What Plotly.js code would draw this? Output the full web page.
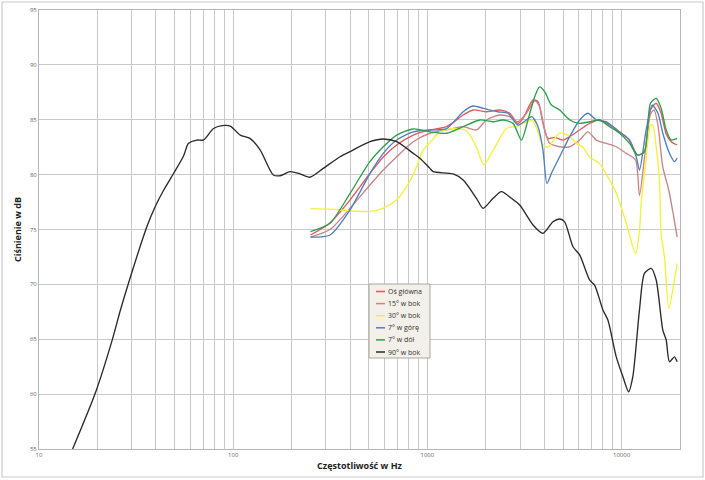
<!DOCTYPE html>
<html><head><meta charset="utf-8">
<script src="https://cdn.plot.ly/plotly-3.0.1.min.js"></script>
<style>html,body{margin:0;padding:0;background:#fff}#chart{width:705px;height:480px}</style>
</head><body><div id="chart"></div>
<script>
// ---- Data (frequency in Hz, level in dB) ----
const seriesNames = ["Oś główna", "15° w bok", "30° w bok", "7° w górę", "7° w dół", "90° w bok"];
const seriesColors = ["#e05a5e", "#c98585", "#f2f23c", "#4f7fbf", "#2f9e4a", "#2a2a2a"];

const fMain = [250,315,400,506,593,695,846,1031,1256,1529,1720,2016,2360,2655,2930,3110,3500,3714,3939,4180,4530,4990,5408,6085,6848,7706,9017,9770,10990,12100,13120,14090,15080,15990,16980,18020,19330];
const dbMain = [74.5,75.6,77.7,80.1,81.6,82.7,83.6,84.07,84.37,85.43,85.89,85.73,85.89,85.59,84.67,85.13,86.8,86.65,84.67,83.3,83.4,83.15,83.46,84.07,84.67,84.98,84.37,83.9,83.15,81.78,82.09,85.89,86.5,85.59,83.7,83.0,82.7];

const f15 = [250,315,400,506,593,695,846,1031,1256,1529,1790,2016,2360,2655,2930,3236,3571,3784,4018,4266,4800,5408,6085,6712,7413,8337,9393,10570,11800,12370,13120,14090,14700,15400,16310,17500,18500,19330];
const db15 = [74.3,75.0,76.93,79.05,80.42,81.63,83.0,83.77,84.07,84.37,84.07,84.98,85.43,85.28,84.82,85.59,86.73,86.19,84.07,82.85,82.54,82.54,83.15,83.9,83.15,82.85,82.54,81.94,81.33,78.1,81.5,85.5,85.9,84.5,80.7,78.6,76.3,74.3];

const f30 = [250,315,400,506,593,695,782,846,951,1031,1159,1358,1590,1790,1951,2180,2552,2875,3236,3500,3939,4180,4800,5408,5850,6330,6848,7706,8680,9393,10570,11800,12370,12620,13300,14090,14500,15080,15670,15990,16630,17510,18360,19330];
const db30 = [76.9,76.85,76.7,76.65,76.95,77.7,78.9,80.0,82.2,82.9,83.9,84.2,84.0,82.5,80.9,82.2,84.2,84.4,84.8,84.9,82.7,82.5,83.8,83.5,82.85,82.5,81.6,81.0,79.5,78.3,75.6,72.8,74.9,77.4,81.0,84.5,84.5,82.5,79.5,74.6,72.5,67.8,69.5,71.9];

const fUp = [250,315,400,506,593,695,846,1031,1256,1529,1720,1937,2300,2600,2930,3236,3450,3714,3939,4130,4355,4800,5408,6085,6712,7413,8337,9393,10800,11900,12370,13390,14380,15400,16310,17650,18730,19330];
const dbUp = [74.3,74.5,76.8,80.1,81.94,83.15,83.9,84.07,84.2,85.73,86.25,86.04,85.73,85.59,84.52,84.98,85.28,84.37,82.24,79.2,80.12,81.63,83.46,84.98,85.59,84.98,84.82,84.07,83.3,81.63,80.42,84.07,86.34,85.59,83.77,81.94,81.18,81.49];

const fDown = [250,315,400,506,593,695,846,1031,1256,1529,1862,2178,2452,2762,3049,3297,3571,3784,4018,4355,4800,5408,6085,6848,7706,8680,9770,10990,12100,13120,14090,15080,15990,16980,18020,19330];
const dbDown = [74.8,75.56,78.3,81.18,82.54,83.6,84.16,83.9,83.77,84.37,84.98,84.82,84.98,84.67,83.15,84.98,87.1,88.0,87.56,86.34,85.89,84.98,84.67,84.82,84.98,84.37,83.77,82.85,81.78,82.09,86.5,86.95,86.04,84.07,83.15,83.3];

const f90 = [14.9,19.5,23.8,26.2,29,36,39.7,43.9,49.3,55.5,58.9,65,70.3,79.2,87.5,96.6,108.7,122,137.6,161,174.4,196.5,221,248.7,291,355,400,506,593,695,846,915,1031,1072,1359,1529,1790,1937,2180,2406,2709,2991,3500,3939,4434,4800,5093,5623,6085,6848,7265,8017,8505,9393,10160,10870,11430,12370,13120,14210,15080,16310,16980,17650,18730,19330];
const db90 = [55,60.1,64.9,67.6,70.2,75.3,77.1,78.6,80.1,81.7,82.85,83.15,83.15,84.2,84.46,84.43,83.6,83.3,82.25,79.97,79.9,80.27,80.06,79.76,80.57,81.63,82.1,83.0,83.25,83.0,81.94,81.49,80.57,80.27,80.06,79.5,77.84,76.93,77.84,78.45,77.84,77.23,75.41,74.65,75.7,75.96,75.7,73.43,72.68,70.4,69.94,67.67,66.75,63.4,61.6,60.22,61.6,67.67,71.0,71.46,70.4,65.84,64.93,62.95,63.4,62.95];

const xs = [fMain, f15, f30, fUp, fDown, f90];
const ys = [dbMain, db15, db30, dbUp, dbDown, db90];

const decadeTicks = [10, 100, 1000, 10000];
const yTicks = [55, 60, 65, 70, 75, 80, 85, 90, 95];

// ---- Build ----
const traces = xs.map((x, i) => ({
  type: "scatter", mode: "lines", x: x, y: ys[i], name: seriesNames[i],
  line: {color: seriesColors[i], width: 1.35, shape: "spline", smoothing: 0.7},
  showlegend: false
}));

// gridline values: 10..90, 100..900, ..., 10000..20000
const gridVals = [];
for (let d = 10; d <= 10000; d *= 10) for (let k = 1; k <= 9; k++) if (d * k <= 20000) gridVals.push(d * k);
gridVals.push(20000);
const gridText = gridVals.map(v => decadeTicks.includes(v) ? String(v) : "");

// plot area pixels
const L = 39, R = 680, T = 10, B = 449;
const px = x => (x - L) / (R - L);
const py = y => (B - y) / (B - T);

const shapes = [
  {type: "rect", xref: "paper", yref: "paper", x0: px(2), x1: px(703), y0: py(477), y1: py(2),
   line: {color: "#cccccc", width: 1.2}, fillcolor: "rgba(0,0,0,0)", layer: "below"},
  {type: "rect", xref: "paper", yref: "paper", x0: px(369), x1: px(430), y0: py(358), y1: py(284),
   line: {color: "#a8a8a0", width: 1}, fillcolor: "#f2f0e8"}
];
const annotations = [];
seriesNames.forEach((n, i) => {
  const yy = 291.5 + i * 12.1;
  shapes.push({type: "line", xref: "paper", yref: "paper", x0: px(376), x1: px(385), y0: py(yy), y1: py(yy),
    line: {color: seriesColors[i], width: 1.5}});
  annotations.push({xref: "paper", yref: "paper", x: px(386), y: py(yy), xanchor: "left", yanchor: "middle",
    text: n, showarrow: false, font: {family: "Open Sans, Liberation Sans, sans-serif", size: 7, color: "#333"}});
});

const layout = {
  width: 705, height: 480,
  margin: {l: L, r: 705 - R, t: T, b: 480 - B},
  paper_bgcolor: "#ffffff", plot_bgcolor: "#ffffff",
  showlegend: false,
  xaxis: {
    type: "log", range: [1, Math.log10(20000)], tickmode: "array", tickvals: gridVals, ticktext: gridText,
    showgrid: true, gridcolor: "#c9c9c9", gridwidth: 1, zeroline: false,
    showline: true, linecolor: "#b5b5b5", mirror: true, ticks: "",
    tickfont: {family: "Open Sans, sans-serif", size: 6, color: "#666"},
    title: {text: "<b>Częstotliwość w Hz</b>", font: {family: "Open Sans, sans-serif", size: 9, color: "#222"}, standoff: 4},
    automargin: false, fixedrange: true
  },
  yaxis: {
    range: [55, 95], tickmode: "array", tickvals: yTicks, ticktext: yTicks.map(String),
    showgrid: true, gridcolor: "#c9c9c9", gridwidth: 1, zeroline: false,
    showline: true, linecolor: "#b5b5b5", mirror: true, ticks: "",
    tickfont: {family: "Open Sans, sans-serif", size: 6, color: "#666"},
    title: {text: "<b>Ciśnienie w dB</b>", font: {family: "Open Sans, sans-serif", size: 9, color: "#222"}, standoff: 6},
    automargin: false, fixedrange: true
  },
  shapes: shapes, annotations: annotations
};

Plotly.newPlot("chart", traces, layout, {displayModeBar: false, staticPlot: true});
</script></body></html>
